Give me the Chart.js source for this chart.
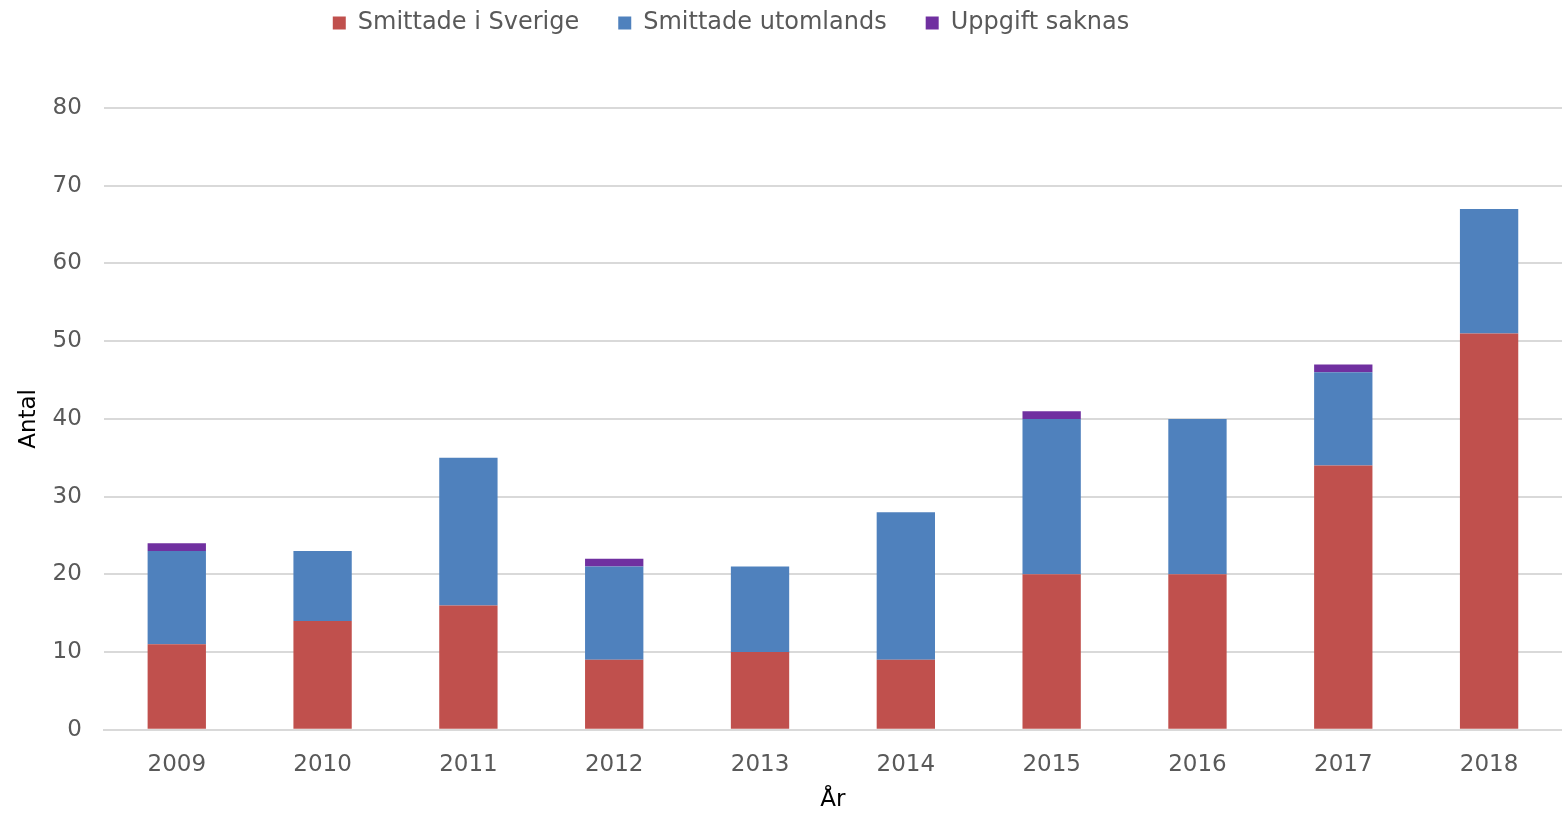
<!DOCTYPE html>
<html lang="sv">
<head>
  <meta charset="UTF-8" />
  <title>Smittade per år</title>
  <script src="https://cdn.jsdelivr.net/npm/chart.js"></script>
  <style>
    html, body { margin: 0; padding: 0; background: #fff; }
    .wrap { width: 1562px; height: 814px; position: relative; }
  </style>
</head>
<body>
<div class="wrap">
  <canvas id="chart"></canvas>
</div>

<script>
  const years = ['2009', '2010', '2011', '2012', '2013', '2014', '2015', '2016', '2017', '2018'];
  const smittadeSverige = [11, 14, 16, 9, 10, 9, 20, 20, 34, 51];
  const smittadeUtomlands = [12, 9, 19, 12, 11, 19, 20, 20, 12, 16];
  const uppgiftSaknas = [1, 0, 0, 1, 0, 0, 1, 0, 1, 0];

  const font = "'DejaVu Sans', Verdana, sans-serif";

  // extra room under the legend and shift it a bit to the left like the original
  const legendTweak = {
    id: 'legendTweak',
    beforeInit(chart) {
      const fit = chart.legend.fit;
      chart.legend.fit = function () {
        fit.bind(chart.legend)();
        this.height += 35;
      };
      const draw = chart.legend.draw;
      chart.legend.draw = function () {
        const c = chart.ctx;
        c.save();
        c.translate(-54, -28);
        draw.bind(chart.legend)();
        c.restore();
      };
    }
  };

  new Chart(document.getElementById('chart'), {
    type: 'bar',
    data: {
      labels: years,
      datasets: [
        { label: 'Smittade i Sverige', data: smittadeSverige, backgroundColor: '#C0504D' },
        { label: 'Smittade utomlands', data: smittadeUtomlands, backgroundColor: '#4F81BD' },
        { label: 'Uppgift saknas', data: uppgiftSaknas, backgroundColor: '#7030A0' }
      ]
    },
    options: {
      responsive: true,
      maintainAspectRatio: false,
      animation: false,
      layout: { padding: { left: 8, right: 0, top: 0, bottom: 0 } },
      datasets: { bar: { barPercentage: 0.4, categoryPercentage: 1 } },
      scales: {
        x: {
          stacked: true,
          grid: { display: false },
          border: { color: '#d9d9d9', width: 2 },
          ticks: { color: '#595959', font: { family: font, size: 23 }, padding: 13 },
          title: { display: true, text: 'År', color: '#000', font: { family: font, size: 23 }, padding: { top: -5, bottom: 0 } }
        },
        y: {
          stacked: true,
          min: 0,
          max: 80,
          ticks: { stepSize: 10, color: '#595959', font: { family: font, size: 23 }, padding: 22 },
          grid: { color: '#d9d9d9', lineWidth: 2, drawTicks: false },
          border: { display: false },
          title: { display: true, text: 'Antal', color: '#000', font: { family: font, size: 23 }, padding: { top: 7, bottom: -12 } }
        }
      },
      plugins: {
        legend: {
          position: 'top',
          labels: {
            color: '#595959',
            font: { family: font, size: 24 },
            boxWidth: 13,
            boxHeight: 13,
            padding: 39
          }
        },
        tooltip: { enabled: false }
      }
    },
    plugins: [legendTweak]
  });
</script>
</body>
</html>
